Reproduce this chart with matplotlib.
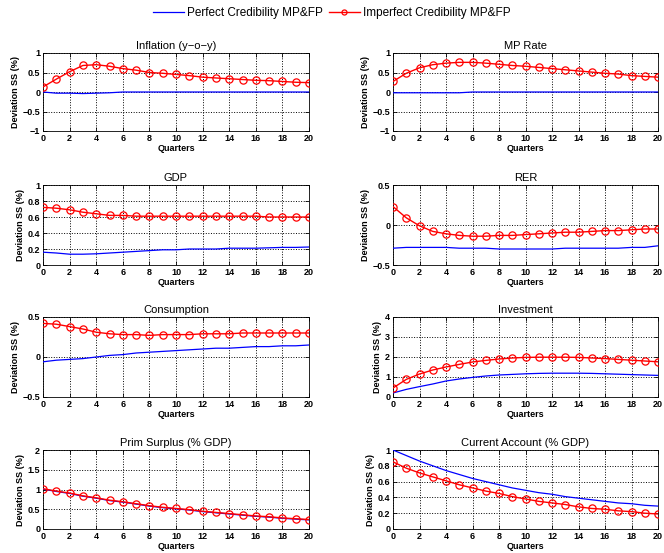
import matplotlib
matplotlib.use('Agg')
import matplotlib.pyplot as plt
import numpy as np

plt.rcParams['font.family'] = ['Liberation Sans', 'DejaVu Sans']

# ------------------- DATA ----------------
quarters = np.arange(21)

titles = ['Inflation (y\u2212o\u2212y)', 'MP Rate', 'GDP', 'RER',
          'Consumption', 'Investment', 'Prim Surplus (% GDP)', 'Current Account (% GDP)']

infl_perf = [0, -0.03, -0.03, -0.04, -0.03, -0.02, 0, 0, 0, 0, 0, 0, 0, 0, 0, 0, 0, 0, 0, 0, 0]
infl_imp = [0.13, 0.33, 0.52, 0.68, 0.70, 0.66, 0.60, 0.56, 0.50, 0.48, 0.45,
            0.42, 0.38, 0.36, 0.34, 0.32, 0.30, 0.29, 0.27, 0.25, 0.24]

mp_perf = [-0.02, -0.02, -0.02, -0.02, -0.02, -0.02, 0, 0, 0, 0, 0, 0, 0, 0, 0, 0, 0, 0, 0, 0, 0]
mp_imp = [0.27, 0.48, 0.62, 0.70, 0.74, 0.76, 0.76, 0.74, 0.71, 0.68, 0.66,
          0.63, 0.60, 0.57, 0.54, 0.51, 0.48, 0.46, 0.42, 0.40, 0.38]

gdp_perf = [0.16, 0.15, 0.135, 0.135, 0.14, 0.15, 0.16, 0.17, 0.18, 0.19, 0.19,
            0.20, 0.20, 0.20, 0.21, 0.21, 0.21, 0.215, 0.22, 0.22, 0.225]
gdp_imp = [0.72, 0.71, 0.69, 0.66, 0.64, 0.62, 0.62, 0.61, 0.61, 0.61, 0.61,
           0.61, 0.61, 0.61, 0.61, 0.61, 0.61, 0.60, 0.60, 0.60, 0.60]

rer_perf = [-0.29, -0.28, -0.28, -0.28, -0.28, -0.29, -0.29, -0.29, -0.30, -0.30, -0.30,
            -0.30, -0.30, -0.29, -0.29, -0.29, -0.29, -0.29, -0.28, -0.28, -0.26]
rer_imp = [0.23, 0.09, -0.01, -0.08, -0.11, -0.13, -0.14, -0.14, -0.13, -0.13, -0.12,
           -0.11, -0.10, -0.09, -0.09, -0.08, -0.07, -0.07, -0.06, -0.05, -0.05]

cons_perf = [-0.06, -0.04, -0.03, -0.02, 0.0, 0.02, 0.03, 0.05, 0.06, 0.07, 0.08,
             0.09, 0.10, 0.11, 0.11, 0.12, 0.13, 0.13, 0.14, 0.14, 0.15]
cons_imp = [0.42, 0.41, 0.38, 0.35, 0.31, 0.29, 0.28, 0.28, 0.27, 0.28, 0.28,
            0.28, 0.29, 0.29, 0.29, 0.30, 0.30, 0.30, 0.30, 0.30, 0.30]

inv_perf = [0.20, 0.38, 0.52, 0.65, 0.80, 0.90, 0.98, 1.05, 1.10, 1.13, 1.16,
            1.18, 1.19, 1.19, 1.19, 1.18, 1.16, 1.14, 1.12, 1.10, 1.08]
inv_imp = [0.45, 0.88, 1.15, 1.35, 1.50, 1.63, 1.75, 1.83, 1.90, 1.95, 1.98,
           1.99, 1.99, 1.99, 1.98, 1.95, 1.92, 1.88, 1.84, 1.80, 1.76]

ps_perf = [1.01, 0.95, 0.90, 0.83, 0.78, 0.72, 0.68, 0.63, 0.58, 0.54, 0.51,
           0.48, 0.44, 0.41, 0.38, 0.35, 0.32, 0.30, 0.27, 0.25, 0.23]
ps_imp = [1.02, 0.96, 0.91, 0.84, 0.79, 0.73, 0.69, 0.64, 0.59, 0.55, 0.52,
          0.49, 0.45, 0.42, 0.39, 0.36, 0.33, 0.31, 0.28, 0.26, 0.24]

ca_perf = [1.00, 0.93, 0.86, 0.80, 0.74, 0.69, 0.64, 0.60, 0.56, 0.52, 0.49,
           0.46, 0.44, 0.41, 0.39, 0.37, 0.35, 0.33, 0.32, 0.30, 0.29]
ca_imp = [0.85, 0.77, 0.71, 0.66, 0.61, 0.56, 0.52, 0.48, 0.45, 0.41, 0.38,
          0.35, 0.33, 0.31, 0.28, 0.26, 0.25, 0.23, 0.22, 0.20, 0.19]

perfect = [infl_perf, mp_perf, gdp_perf, rer_perf, cons_perf, inv_perf, ps_perf, ca_perf]
imperfect = [infl_imp, mp_imp, gdp_imp, rer_imp, cons_imp, inv_imp, ps_imp, ca_imp]

ylims = [(-1, 1), (-1, 1), (0, 1), (-0.5, 0.5), (-0.5, 0.5), (0, 4), (0, 2), (0, 1)]
yticks = [[-1, -0.5, 0, 0.5, 1], [-1, -0.5, 0, 0.5, 1],
          [0, 0.2, 0.4, 0.6, 0.8, 1], [-0.5, 0, 0.5], [-0.5, 0, 0.5],
          [0, 1, 2, 3, 4], [0, 0.5, 1, 1.5, 2], [0, 0.2, 0.4, 0.6, 0.8, 1]]

# ---------------- LAYOUT -------------------------
W, H = 664, 553
lefts = [43, 393]
widths = [266, 265]
rows = [(53, 131), (185, 265), (317, 397), (450, 529)]


def fmt(v):
    return ('%g' % v).replace('-', '\u2212')


fig = plt.figure(figsize=(W / 100, H / 100), dpi=100)

for k in range(8):
    r, c = divmod(k, 2)
    top, bot = rows[r]
    ax = fig.add_axes([lefts[c] / W, 1 - bot / H, widths[c] / W, (bot - top) / H])
    lp, = ax.plot(quarters, perfect[k], color='#0000ff', lw=0.9, zorder=3)
    li, = ax.plot(quarters, imperfect[k], color='#ff0000', lw=1.0, marker='o',
                  ms=5.2, mfc='none', mec='#ff0000', mew=0.9, zorder=4)
    ax.set_xlim(0, 20)
    ax.set_ylim(*ylims[k])
    ax.set_xticks(range(0, 21, 2))
    ax.set_yticks(yticks[k])
    ax.set_yticklabels([fmt(v) for v in yticks[k]])
    ax.tick_params(direction='in', length=3, width=0.6, labelsize=6.5, pad=2,
                   top=True, right=True)
    for lab in ax.get_xticklabels() + ax.get_yticklabels():
        lab.set_fontweight('bold')
    ax.grid(True, color='black', linestyle=':', linewidth=0.7)
    for s in ax.spines.values():
        s.set_linewidth(0.6)
    ax.set_title(titles[k], fontsize=8, pad=3)
    ax.set_xlabel('Quarters', fontsize=6.5, fontweight='bold', labelpad=1)
    ax.set_ylabel('Deviation SS (%)', fontsize=6.5, fontweight='bold', labelpad=2)

fig.legend([lp, li], ['Perfect Credibility MP&FP', 'Imperfect Credibility MP&FP'],
           loc='center', bbox_to_anchor=(0.5, 1 - 13 / H), ncol=2, frameon=False,
           fontsize=8.5, handlelength=2.6, columnspacing=0.5, handletextpad=0.3,
           markerscale=0.7)

fig.savefig('out.png', dpi=100)
